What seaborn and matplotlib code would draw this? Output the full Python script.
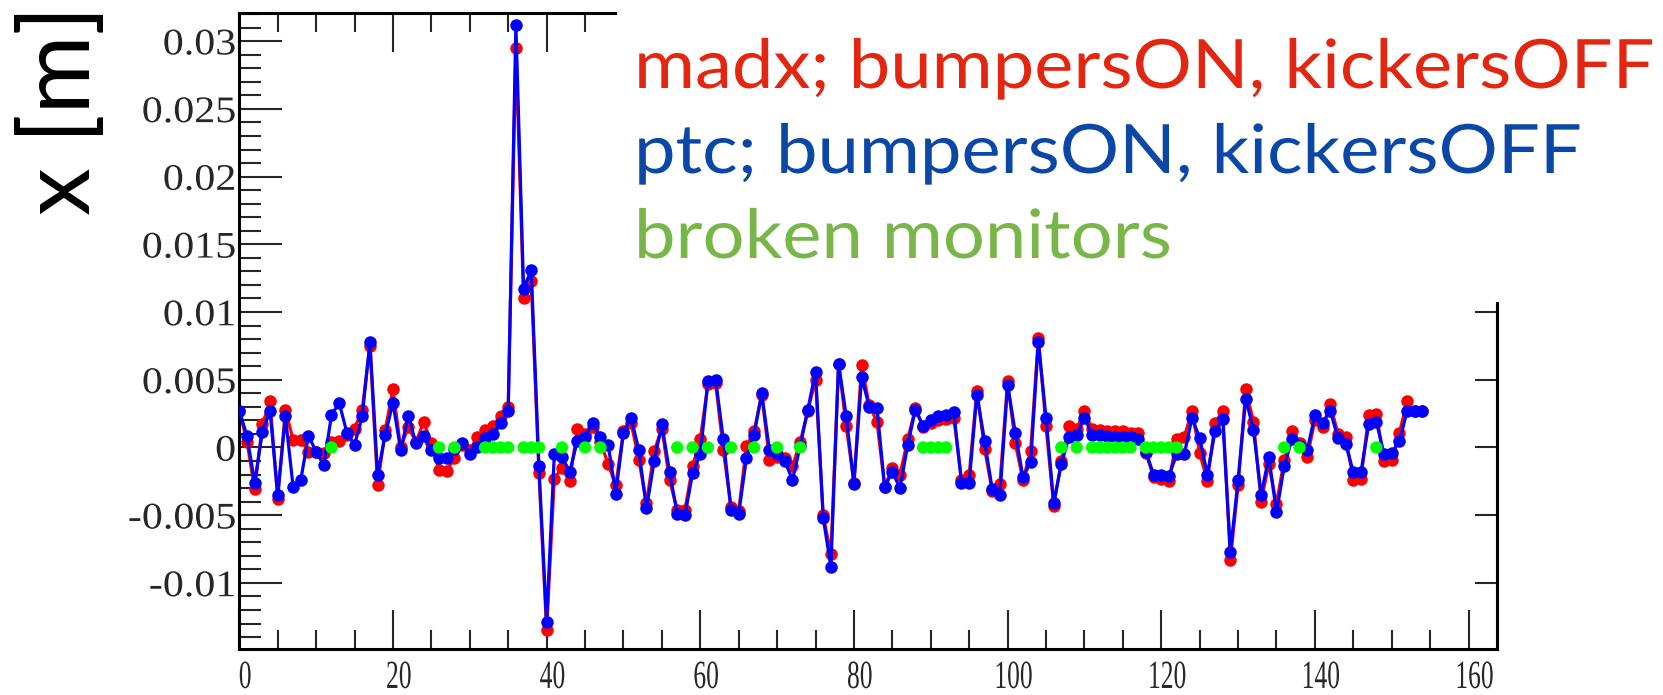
import numpy as np
import pandas as pd
import matplotlib
matplotlib.use("Agg")
import matplotlib.pyplot as plt
import seaborn as sns
from matplotlib.patches import Rectangle
from matplotlib.ticker import FixedLocator, MultipleLocator, NullLocator
from matplotlib.patheffects import AbstractPathEffect
from matplotlib.transforms import Affine2D

# Horizontal closed-orbit reading at each beam position monitor
monitor = np.arange(155)

madx_x = [
    0.0027, 0.00044, -0.0031, 0.0017, 0.0034, -0.0038, 0.0028, 0.00057, 0.00057, -0.0003,
    -0.0003, -0.0004, 0.00044, 0.0005, 0.0009, 0.0014, 0.0028, 0.0075, -0.0028, 0.0013,
    0.0043, 0.0, 0.0015, 0.0004, 0.0019, 0.0003, -0.00165, -0.0017, -0.0008, 0.0002,
    -0.0002, 0.0008, 0.0013, 0.0016, 0.0023, 0.003, 0.0295, 0.011, 0.0123, -0.0019,
    -0.0135, -0.0023, -0.0015, -0.0025, 0.0014, 0.001, 0.0015, 0.0004, -0.0012, -0.0028,
    0.0012, 0.0018, -0.0009, -0.0041, -0.00025, 0.0014, -0.0024, -0.0046, -0.0046, -0.0014,
    0.0006, 0.0047, 0.00475, -0.0002, -0.0044, -0.0047, 0.0001, 0.0012, 0.0039, -0.0009,
    -0.0007, -0.0008, -0.0014, 0.0004, 0.0027, 0.005, -0.005, -0.0079, 0.0062, 0.00155,
    -0.0026, 0.0061, 0.0031, 0.0019, -0.0029, -0.0015, -0.002, 0.0006, 0.0029, 0.0015,
    0.0018, 0.002, 0.0021, 0.0022, -0.0024, -0.002, 0.0042, -0.0001, -0.0032, -0.0027,
    0.0049, 0.0003, -0.0024, -0.00025, 0.0081, 0.00155, -0.0043, -0.001, 0.0016, 0.0014,
    0.0027, 0.00135, 0.0013, 0.00125, 0.0012, 0.0012, 0.0011, 0.00105, -0.0004, -0.0022,
    -0.0023, -0.0025, 0.0006, 0.0008, 0.0027, -0.0004, -0.0025, 0.0018, 0.0027, -0.0083,
    -0.0028, 0.0043, 0.0019, -0.004, -0.0012, -0.0042, -0.0009, 0.0012, 0.0003, -0.0007,
    0.002, 0.0015, 0.0032, 0.001, 0.0008, -0.0024, -0.0023, 0.0024, 0.0025, -0.001,
    -0.0009, 0.0011, 0.0034, 0.0027, 0.0027,
]

ptc_x = [
    0.0027, 0.00086, -0.0026, 0.00115, 0.0027, -0.0035, 0.0023, -0.0029, -0.0024, 0.00086,
    -0.0003, -0.0013, 0.0024, 0.0033, 0.0011, 0.0002, 0.0023, 0.0078, -0.002, 0.00095,
    0.0033, -0.00017, 0.0023, 0.0003, 0.00086, -0.0002, -0.0008, -0.0008, -0.0001, 0.0003,
    -0.0005, 0.0, 0.0007, 0.001, 0.0018, 0.0027, 0.0312, 0.0117, 0.0131, -0.0014,
    -0.0129, -0.0005, -0.0007, -0.0018, 0.0005, 0.0008, 0.0018, 0.0008, 0.0002, -0.0034,
    0.0011, 0.0022, -0.0002, -0.0045, -0.001, 0.0017, -0.0018, -0.0049, -0.005, -0.0019,
    -0.0005, 0.0049, 0.005, 0.0006, -0.0046, -0.0049, -0.0008, 0.00095, 0.004, -0.0002,
    -0.0005, -0.001, -0.0024, 0.0001, 0.0028, 0.0056, -0.0052, -0.0088, 0.0062, 0.0023,
    -0.0027, 0.0052, 0.003, 0.0029, -0.0029, -0.0018, -0.003, 0.0002, 0.0028, 0.0016,
    0.002, 0.0023, 0.0024, 0.0026, -0.0026, -0.0026, 0.0039, 0.0005, -0.0031, -0.0035,
    0.0046, 0.0011, -0.0022, -0.0011, 0.0078, 0.0022, -0.0041, -0.0012, 0.0008, 0.00095,
    0.0022, 0.00095, 0.0009, 0.00085, 0.0008, 0.0008, 0.00075, 0.0006, -0.0003, -0.002,
    -0.002, -0.0021, -0.0005, -0.0005, 0.0022, 0.0007, -0.002, 0.0012, 0.0021, -0.0077,
    -0.0024, 0.0036, 0.0013, -0.0035, -0.0007, -0.0048, -0.0014, 0.0006, 0.0001, -0.0002,
    0.0024, 0.0018, 0.0027, 0.0007, 0.00025, -0.0018, -0.0018, 0.0017, 0.0019, -0.0005,
    -0.0004, 0.00045, 0.0027, 0.0027, 0.0027,
]

broken_monitors = [12, 26, 28, 32, 33, 34, 35, 37, 38, 39, 42, 45, 47, 57, 59, 61, 64,
                   67, 70, 73, 89, 90, 91, 92, 107, 109, 111, 112, 113, 114, 115, 116,
                   118, 119, 120, 121, 122, 136, 138, 148]

x_ticks = [0, 20, 40, 60, 80, 100, 120, 140, 160]
x_tick_labels = ["0", "20", "40", "60", "80", "100", "120", "140", "160"]
y_ticks = [-0.01, -0.005, 0.0, 0.005, 0.01, 0.015, 0.02, 0.025, 0.03]
y_tick_labels = ["-0.01", "-0.005", "0", "0.005", "0.01", "0.015", "0.02", "0.025", "0.03"]

legend_labels = ["madx; bumpersON, kickersOFF", "ptc; bumpersON, kickersOFF", "broken monitors"]
legend_colors = ["#e3260f", "#0b47a6", "#79b648"]
y_title = "x [m]"


class Stretch(AbstractPathEffect):
    """Rescale a text path about one of its edges (or its centre) and the baseline."""

    def __init__(self, sx=1.0, sy=1.0, anchor="center", dx=0.0):
        super().__init__()
        self.sx, self.sy, self.anchor, self.dx = sx, sy, anchor, dx

    def draw_path(self, renderer, gc, tpath, affine, rgbFace=None):
        v = tpath.vertices
        if len(v):
            lo, hi = v[:, 0].min(), v[:, 0].max()
            cx = {"left": lo, "right": hi}.get(self.anchor, 0.5 * (lo + hi))
        else:
            cx = 0.0
        t = Affine2D().translate(-cx, 0).scale(self.sx, self.sy).translate(cx, 0)
        renderer.draw_path(gc, tpath, t + affine + Affine2D().translate(self.dx, 0), rgbFace)


sns.set_style("white")
plt.rcParams["font.family"] = ["Liberation Serif", "DejaVu Serif"]

W, H = 1663, 695
fig = plt.figure(figsize=(W / 100, H / 100), dpi=100)
x0, x1, y0, y1 = 239.3, 1497.0, 12.7, 649.3
ax = fig.add_axes([x0 / W, 1 - y1 / H, (x1 - x0) / W, (y1 - y0) / H])

orbit = pd.DataFrame({"monitor": monitor, "madx": madx_x, "ptc": ptc_x})
broken = pd.DataFrame({"monitor": broken_monitors, "x": np.zeros(len(broken_monitors))})

sns.lineplot(data=orbit, x="monitor", y="madx", ax=ax, color="#ff0000", lw=2.3,
             marker="o", markersize=9, markeredgewidth=0, estimator=None, sort=False,
             zorder=2)
sns.lineplot(data=orbit, x="monitor", y="ptc", ax=ax, color="#0000ff", lw=2.3,
             marker="o", markersize=9, markeredgewidth=0, estimator=None, sort=False,
             zorder=3)
sns.scatterplot(data=broken, x="monitor", y="x", ax=ax, color="#00ff00", s=80,
                edgecolor="none", zorder=4)

ax.set_xlim(0, 163.7)
ax.set_ylim(-0.0149, 0.0321)
ax.set_xlabel("")
ax.set_ylabel("")

for s in ax.spines.values():
    s.set_linewidth(2.2)
    s.set_color("black")

ax.xaxis.set_major_locator(FixedLocator(x_ticks))
ax.xaxis.set_minor_locator(MultipleLocator(5))
ax.set_xticklabels(x_tick_labels)
ax.yaxis.set_major_locator(FixedLocator(y_ticks))
ax.yaxis.set_minor_locator(MultipleLocator(0.001))
ax.set_yticklabels(y_tick_labels)

ax.tick_params(axis="x", which="major", direction="in", length=28, width=1.5,
               top=True, bottom=True, pad=12, labelsize=23)
ax.tick_params(axis="x", which="minor", direction="in", length=14, width=1.5,
               top=True, bottom=True)
ax.tick_params(axis="y", which="major", direction="in", length=31, width=1.5,
               left=True, right=False, pad=2.5, labelsize=27)
ax.tick_params(axis="y", which="minor", direction="in", length=15.5, width=1.5,
               left=True, right=False)
for lab in ax.get_xticklabels():
    lab.set_path_effects([Stretch(sx=0.8, sy=1.25, anchor="center", dx=6)])
for lab in ax.get_yticklabels():
    lab.set_path_effects([Stretch(sx=1.12, sy=1.0, anchor="right")])

# Right-hand axis carries only the major marks
ax_r = ax.secondary_yaxis("right")
ax_r.yaxis.set_major_locator(FixedLocator(y_ticks))
ax_r.yaxis.set_minor_locator(NullLocator())
ax_r.tick_params(axis="y", which="major", direction="in", length=16, width=1.5,
                 labelright=False)
ax_r.spines["right"].set_linewidth(2.2)

# Legend panel sits over the upper-right corner of the frame
fig.add_artist(Rectangle((617 / W, 1 - 302 / H), 1 - 617 / W, 302 / H,
                         transform=fig.transFigure, facecolor="white",
                         edgecolor="none", zorder=10))
baselines = [88, 173, 258]
for lab, col, yb in zip(legend_labels, legend_colors, baselines):
    t = fig.text(634 / W, 1 - yb / H, lab, color=col, fontsize=49, family="Lato",
                 va="baseline", ha="left", zorder=11)
    t.set_path_effects([Stretch(sx=1.09, anchor="left")])

fig.text(62 / W, 1 - 110 / H, y_title, rotation=90, fontsize=69, family="Lato",
         ha="center", va="center", color="black")

fig.savefig("out.png", dpi=100)
